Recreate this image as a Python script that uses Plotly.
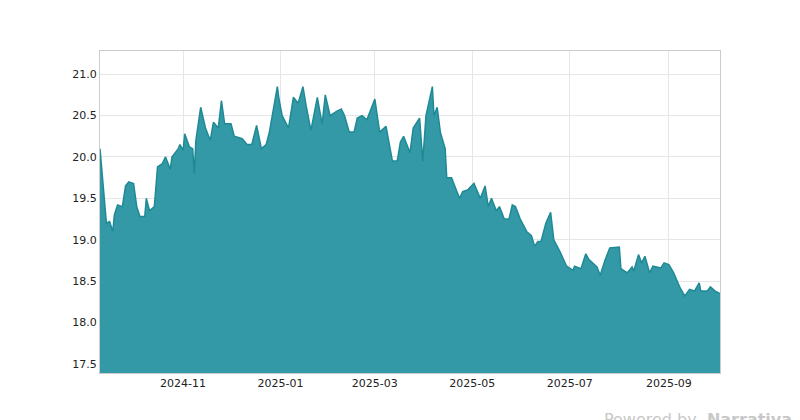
import plotly.graph_objects as go
import pandas as pd

start_date = "2024-09-10"
day_offsets = [0,2,4,6,8,9,11,14,16,18,21,23,25,28,29,31,34,36,39,41,44,45,49,50,52,53,56,58,59,60,63,66,69,71,74,76,78,82,84,89,92,95,98,101,104,106,111,112,114,118,121,124,127,129,132,136,139,141,144,148,151,153,156,159,161,164,167,172,175,179,183,186,188,190,194,196,200,202,204,208,209,211,213,216,217,220,223,225,227,230,234,238,241,243,245,248,250,253,256,258,260,263,267,270,272,274,276,279,282,284,288,292,296,297,301,304,306,311,313,316,319,325,326,330,333,334,337,339,341,343,344,346,351,353,356,359,363,366,369,372,375,376,380,382,385,388]
values = [20.1,19.6,19.2,19.22,19.1,19.3,19.42,19.4,19.65,19.7,19.68,19.4,19.28,19.28,19.5,19.35,19.4,19.88,19.92,20.0,19.85,20.0,20.1,20.15,20.08,20.28,20.12,20.1,19.8,20.2,20.6,20.35,20.2,20.42,20.35,20.68,20.4,20.4,20.25,20.22,20.15,20.15,20.38,20.1,20.15,20.3,20.85,20.7,20.5,20.35,20.72,20.65,20.85,20.62,20.32,20.72,20.4,20.75,20.5,20.55,20.58,20.5,20.3,20.3,20.47,20.5,20.45,20.7,20.3,20.37,19.95,19.95,20.18,20.25,20.05,20.35,20.47,19.95,20.5,20.85,20.5,20.6,20.3,20.1,19.75,19.75,19.6,19.5,19.58,19.6,19.68,19.5,19.65,19.4,19.5,19.35,19.4,19.25,19.25,19.42,19.4,19.25,19.1,19.05,18.92,18.98,18.98,19.2,19.33,19.0,18.85,18.68,18.63,18.68,18.65,18.83,18.76,18.67,18.57,18.75,18.9,18.91,18.65,18.6,18.67,18.62,18.82,18.72,18.8,18.68,18.6,18.68,18.66,18.72,18.7,18.6,18.42,18.32,18.4,18.38,18.48,18.38,18.38,18.43,18.38,18.35]
tick_vals = ["2024-11-01","2025-01-01","2025-03-01","2025-05-01","2025-07-01","2025-09-01"]
tick_text = ["2024-11","2025-01","2025-03","2025-05","2025-07","2025-09"]

dates = pd.to_datetime(start_date) + pd.to_timedelta(day_offsets, unit="D")

fig = go.Figure(go.Scatter(x=dates, y=values, mode="lines", fill="tozeroy",
                           line=dict(color="#1f8a96", width=1.5),
                           fillcolor="rgba(51,153,166,1)"))
fig.update_layout(
    width=800, height=420, margin=dict(l=92, r=88, t=43, b=55),
    paper_bgcolor="white", plot_bgcolor="white", showlegend=False,
    font=dict(family="DejaVu Sans", size=11, color="#222"),
    annotations=[dict(text="Powered by  <b>Narrativa</b>", xref="paper", yref="paper",
                      x=1.12, y=-0.18, xanchor="right", yanchor="bottom", showarrow=False,
                      font=dict(size=16, color="#c8c8c8"))])
fig.update_xaxes(range=[dates[0], dates[-1]], tickvals=tick_vals, ticktext=tick_text,
                 showgrid=True, gridcolor="#e6e6e6", showline=True, linecolor="#cccccc",
                 mirror=True, ticks="", tickfont=dict(size=11))
fig.update_yaxes(range=[17.39, 21.28], tickvals=[17.5,18,18.5,19,19.5,20,20.5,21],
                 ticktext=["17.5","18.0","18.5","19.0","19.5","20.0","20.5","21.0"],
                 showgrid=True, gridcolor="#e6e6e6", showline=True, linecolor="#cccccc",
                 mirror=True, ticks="", zeroline=False, tickfont=dict(size=11))
fig.write_html("out.html")
